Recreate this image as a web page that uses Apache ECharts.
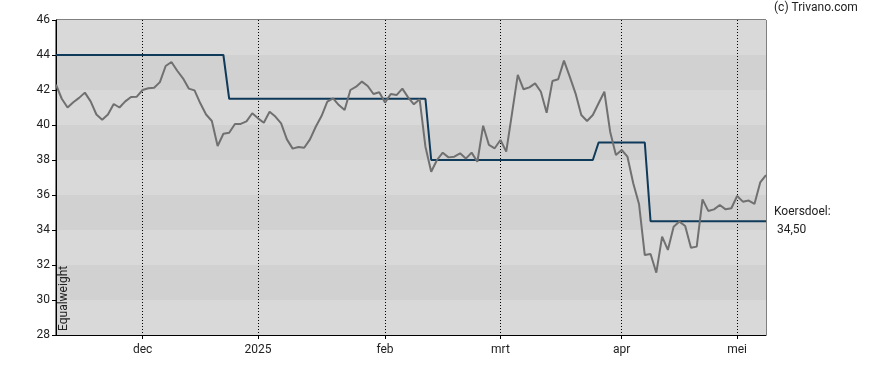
<!DOCTYPE html>
<html>
<head>
<meta charset="utf-8">
<script src="https://cdn.jsdelivr.net/npm/echarts@6/dist/echarts.min.js"></script>
<style>
  html, body { margin: 0; padding: 0; background: #fff; }
  #chart { width: 888px; height: 370px; }
</style>
</head>
<body>
<div id="chart"></div>
<script>
// Trading days (categories)
const dates = [
  "2024-11-11","2024-11-12","2024-11-13","2024-11-14","2024-11-15","2024-11-18","2024-11-19","2024-11-20","2024-11-21","2024-11-22","2024-11-25","2024-11-26","2024-11-27","2024-11-28","2024-11-29",
  "2024-12-02","2024-12-03","2024-12-04","2024-12-05","2024-12-06","2024-12-09","2024-12-10","2024-12-11","2024-12-12","2024-12-13","2024-12-16","2024-12-17","2024-12-18","2024-12-19","2024-12-20","2024-12-23","2024-12-24","2024-12-27","2024-12-30","2024-12-31",
  "2025-01-02","2025-01-03","2025-01-06","2025-01-07","2025-01-08","2025-01-09","2025-01-10","2025-01-13","2025-01-14","2025-01-15","2025-01-16","2025-01-17","2025-01-20","2025-01-21","2025-01-22","2025-01-23","2025-01-24","2025-01-27","2025-01-28","2025-01-29","2025-01-30","2025-01-31",
  "2025-02-03","2025-02-04","2025-02-05","2025-02-06","2025-02-07","2025-02-10","2025-02-11","2025-02-12","2025-02-13","2025-02-14","2025-02-17","2025-02-18","2025-02-19","2025-02-20","2025-02-21","2025-02-24","2025-02-25","2025-02-26","2025-02-27","2025-02-28",
  "2025-03-03","2025-03-04","2025-03-05","2025-03-06","2025-03-07","2025-03-10","2025-03-11","2025-03-12","2025-03-13","2025-03-14","2025-03-17","2025-03-18","2025-03-19","2025-03-20","2025-03-21","2025-03-24","2025-03-25","2025-03-26","2025-03-27","2025-03-28","2025-03-31",
  "2025-04-01","2025-04-02","2025-04-03","2025-04-04","2025-04-07","2025-04-08","2025-04-09","2025-04-10","2025-04-11","2025-04-14","2025-04-15","2025-04-16","2025-04-17","2025-04-22","2025-04-23","2025-04-24","2025-04-25","2025-04-28","2025-04-29","2025-04-30",
  "2025-05-02","2025-05-05","2025-05-06","2025-05-07","2025-05-08","2025-05-09"
];

// Share price
const price = [
  42.3,41.5,41.0,41.3,41.55,41.85,41.35,40.6,40.3,40.6,41.2,41.0,41.35,41.6,41.62,
  42.0,42.1,42.13,42.45,43.37,43.6,43.1,42.67,42.08,41.98,41.24,40.6,40.23,38.8,39.5,39.56,40.06,40.06,40.21,40.67,
  40.38,40.13,40.76,40.48,40.09,39.18,38.65,38.74,38.7,39.18,39.9,40.51,41.33,41.52,41.14,40.86,42.0,42.19,42.48,42.23,41.77,41.87,
  41.28,41.77,41.71,42.08,41.58,41.18,41.47,38.76,37.33,38.0,38.42,38.15,38.19,38.38,38.08,38.42,37.9,39.96,38.86,38.67,
  39.14,38.48,40.67,42.86,42.04,42.15,42.38,41.9,40.7,42.51,42.61,43.68,42.76,41.81,40.57,40.23,40.57,41.24,41.9,39.62,38.29,
  38.57,38.19,36.67,35.49,32.57,32.63,31.56,33.62,32.86,34.19,34.48,34.23,32.99,33.05,35.75,35.09,35.18,35.43,35.18,35.24,
  35.94,35.62,35.68,35.49,36.72,37.14
];

// Price target (koersdoel)
const target = [
  44,44,44,44,44,44,44,44,44,44,44,44,44,44,44,
  44,44,44,44,44,44,44,44,44,44,44,44,44,44,44,41.5,41.5,41.5,41.5,41.5,
  41.5,41.5,41.5,41.5,41.5,41.5,41.5,41.5,41.5,41.5,41.5,41.5,41.5,41.5,41.5,41.5,41.5,41.5,41.5,41.5,41.5,41.5,
  41.5,41.5,41.5,41.5,41.5,41.5,41.5,41.5,38,38,38,38,38,38,38,38,38,38,38,38,
  38,38,38,38,38,38,38,38,38,38,38,38,38,38,38,38,38,39,39,39,39,
  39,39,39,39,39,34.5,34.5,34.5,34.5,34.5,34.5,34.5,34.5,34.5,34.5,34.5,34.5,34.5,34.5,34.5,
  34.5,34.5,34.5,34.5,34.5,34.5
];

const monthNames = ["2025","feb","mrt","apr","mei","jun","jul","aug","sep","okt","nov","dec"];
const yTicks = { min: 28, max: 46, step: 2 };
const targetLabel = "Koersdoel:";
const targetText = "34,50";
const rating = "Equalweight";
const credit = "(c) Trivano.com";

function isMonthStart(idx) {
  if (idx === 0) return false;
  return dates[idx].slice(0, 7) !== dates[idx - 1].slice(0, 7);
}
function monthLabel(value) {
  const m = parseInt(value.slice(5, 7), 10);
  return monthNames[m - 1];
}

const chart = echarts.init(document.getElementById('chart'), null, { renderer: 'canvas' });
const FONT = 'Roboto, "Liberation Sans", Arial, sans-serif';

chart.setOption({
  animation: false,
  backgroundColor: '#ffffff',
  grid: {
    left: 56, right: 122, top: 20, bottom: 35,
    show: true, borderColor: '#000', borderWidth: 1, backgroundColor: 'transparent'
  },
  xAxis: {
    type: 'category',
    data: dates,
    boundaryGap: false,
    axisLine: { show: true, lineStyle: { color: '#000', width: 1 } },
    axisTick: {
      show: true, length: 4, lineStyle: { color: '#000' },
      interval: function (idx) { return isMonthStart(idx); }
    },
    axisLabel: {
      show: true, color: '#222', fontFamily: FONT, fontSize: 12, margin: 9,
      interval: function (idx) { return isMonthStart(idx); },
      formatter: function (v) { return monthLabel(v); }
    },
    splitLine: {
      show: true,
      interval: function (idx) { return isMonthStart(idx); },
      lineStyle: { color: '#000', width: 1, type: [1, 2] }
    }
  },
  yAxis: {
    type: 'value',
    min: yTicks.min, max: yTicks.max, interval: yTicks.step,
    axisLine: { show: true, lineStyle: { color: '#000', width: 1 } },
    axisTick: { show: true, length: 4, lineStyle: { color: '#000' } },
    axisLabel: { color: '#222', fontFamily: FONT, fontSize: 12, margin: 6 },
    splitLine: { show: false },
    splitArea: { show: true, areaStyle: { color: ['#d9d9d9', '#d1d1d1'] } }
  },
  series: [
    {
      name: 'Koersdoel',
      type: 'line',
      data: target,
      symbol: 'none',
      lineStyle: { color: '#0f3a5a', width: 2 },
      z: 2,
      endLabel: {
        show: true,
        distance: 8,
        formatter: targetLabel + '\n ' + targetText,
        color: '#222', fontFamily: FONT, fontSize: 12, lineHeight: 18, align: 'left'
      }
    },
    {
      name: 'Koers',
      type: 'line',
      data: price,
      symbol: 'none',
      lineStyle: { color: '#707070', width: 2 },
      z: 3
    }
  ],
  graphic: [
    {
      type: 'text',
      left: 774, top: 2,
      z: 100,
      style: { text: credit, fill: '#222', font: '12px ' + FONT }
    },
    {
      type: 'text',
      x: 70, y: 331,
      z: 100,
      rotation: Math.PI / 2,
      style: { text: rating, fill: '#222', font: '12px ' + FONT, textAlign: 'left', textVerticalAlign: 'bottom' }
    }
  ]
});
</script>
</body>
</html>
